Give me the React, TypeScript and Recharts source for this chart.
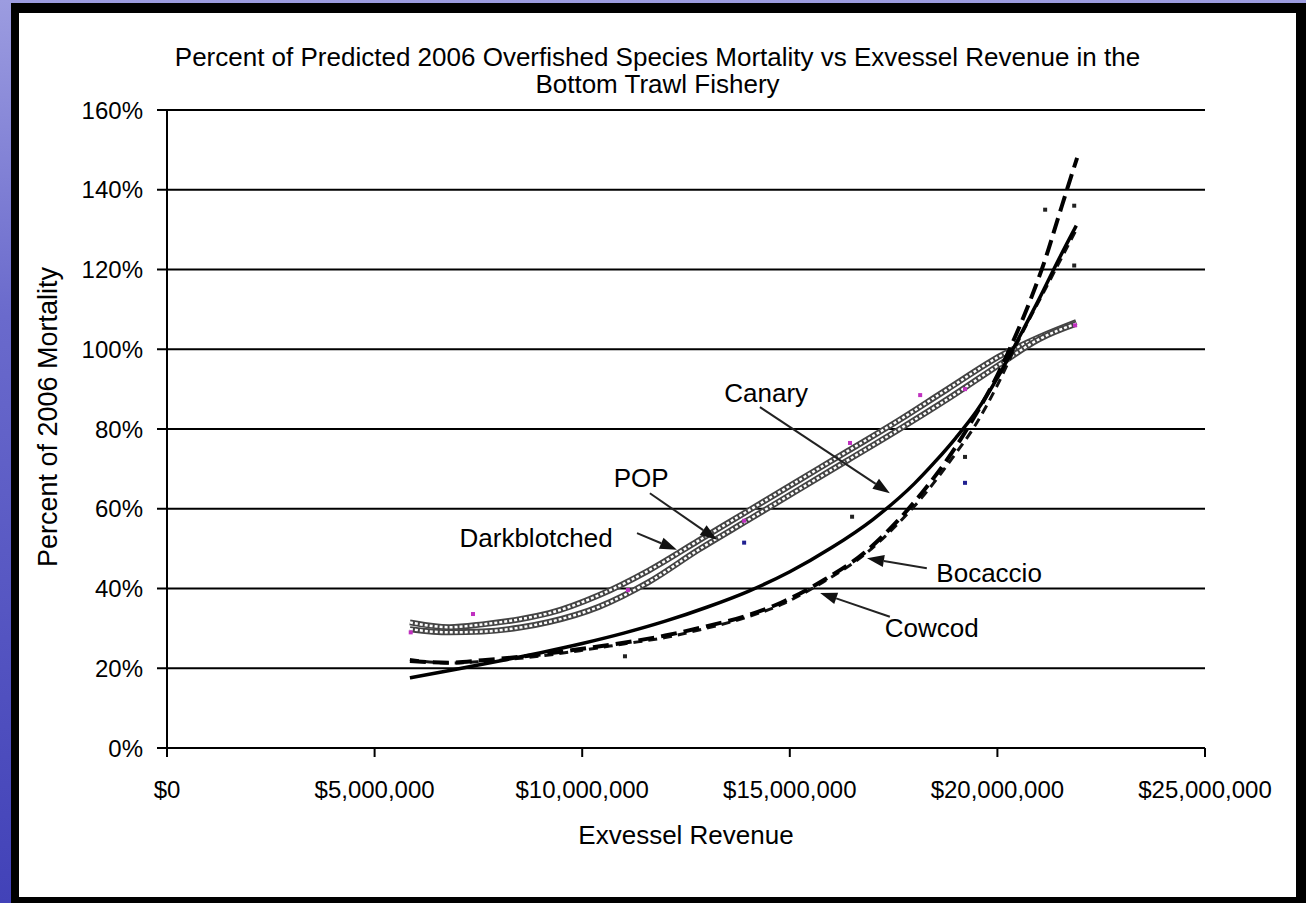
import React from "react";
import {
  ComposedChart,
  Line,
  Scatter,
  XAxis,
  YAxis,
  CartesianGrid,
  ReferenceLine,
  ReferenceDot,
} from "recharts";

// revenue in $ millions, mortality in percent
const revenueTicks = [0, 5000000, 10000000, 15000000, 20000000, 25000000];
const percentTicks = [0, 20, 40, 60, 80, 100, 120, 140, 160];

const darkRev = [5.85, 6.8, 7.6, 8.5, 9.2, 10.4, 11.6, 12.8, 14.0, 15.2, 16.4, 17.6, 18.8, 20.1, 21.0, 21.9];
const darkPct = [31.5, 30.3, 31.0, 32.3, 33.8, 38.3, 44.5, 52.0, 59.5, 67.0, 74.5, 82.0, 90.0, 98.5, 103.0, 106.8];

const popRev = [5.85, 6.8, 7.6, 8.5, 9.2, 10.4, 11.6, 12.8, 14.0, 15.2, 16.4, 17.6, 18.8, 20.1, 21.0, 21.9];
const popPct = [29.8, 29.0, 29.2, 30.2, 31.6, 35.4, 41.6, 49.7, 57.2, 64.7, 72.2, 79.7, 87.5, 96.5, 102.5, 106.4];

const canaryRev = [5.85, 7.0, 8.0, 9.0, 10.0, 11.0, 12.0, 13.0, 14.0, 15.0, 16.0, 17.0, 18.0, 18.5, 19.0, 19.5, 20.0, 20.5, 21.0, 21.5, 21.9];
const canaryPct = [17.6, 19.8, 21.8, 23.9, 26.2, 28.8, 31.8, 35.3, 39.3, 44.2, 50.2, 57.3, 66.3, 71.8, 77.8, 84.5, 92.8, 102.5, 112.5, 123.0, 131.0];

const bocRev = [5.85, 6.8, 7.6, 9.1, 10.0, 11.0, 12.0, 12.9, 13.9, 14.8, 15.8, 16.8, 17.6, 18.3, 18.9, 19.5, 20.0, 20.4, 20.8, 21.15, 21.45, 21.75, 21.92];
const bocPct = [21.8, 21.4, 22.0, 23.6, 24.9, 26.4, 28.2, 30.3, 33.0, 36.5, 42.0, 49.0, 57.0, 65.5, 74.0, 84.0, 93.5, 102.5, 112.5, 122.5, 132.5, 142.5, 148.0];

const cowRev = [5.85, 6.8, 7.6, 9.1, 10.0, 11.0, 12.0, 12.9, 13.9, 14.8, 15.8, 16.8, 17.6, 18.3, 18.9, 19.5, 20.0, 20.5, 21.3, 21.9];
const cowPct = [22.2, 21.3, 21.7, 23.2, 24.5, 26.1, 27.7, 29.8, 32.6, 36.0, 41.6, 48.5, 56.2, 64.3, 72.5, 81.5, 91.0, 102.0, 118.0, 130.0];

// observed points (the small markers)
const darkObsRev = [5.87, 7.37, 11.1, 13.9, 16.45, 18.14, 19.22, 21.87];
const darkObsPct = [29.0, 33.6, 39.6, 57.0, 76.5, 88.5, 90.0, 106.0];
const popObsRev = [13.9, 19.22];
const popObsPct = [51.5, 66.5];
const otherObsRev = [11.03, 16.5, 19.22, 21.15, 21.85, 21.85];
const otherObsPct = [23.0, 58.0, 73.0, 135.0, 136.0, 121.0];

const toPoints = (rev: number[], pct: number[]) => rev.map((r, i) => ({ x: r * 1000000, y: pct[i] }));

const darkData = toPoints(darkRev, darkPct);
const popData = toPoints(popRev, popPct);
const canaryData = toPoints(canaryRev, canaryPct);
const bocData = toPoints(bocRev, bocPct);
const cowData = toPoints(cowRev, cowPct);

const notes = [
  { text: "Canary", at: [14.43, 89.0], from: [14.28, 85.5], to: [17.41, 63.9] },
  { text: "POP", at: [11.42, 67.7], from: [11.63, 63.9], to: [13.25, 52.2] },
  { text: "Darkblotched", at: [8.89, 52.7], from: [11.32, 53.9], to: [12.28, 49.7] },
  { text: "Bocaccio", at: [19.8, 43.9], from: [18.3, 45.1], to: [16.86, 47.6] },
  { text: "Cowcod", at: [18.42, 30.1], from: [17.41, 32.9], to: [15.73, 38.9] },
];

const FONT = "'Liberation Sans', Arial, sans-serif";

// eslint-disable-next-line @typescript-eslint/no-explicit-any
function Arrow(p: any) {
  const { x1, y1, x2, y2 } = p;
  const a = Math.atan2(y2 - y1, x2 - x1);
  const len = 17;
  const half = 6;
  const bx = x2 - len * Math.cos(a);
  const by = y2 - len * Math.sin(a);
  const pts = `${x2},${y2} ${bx + half * Math.sin(a)},${by - half * Math.cos(a)} ${bx - half * Math.sin(a)},${by + half * Math.cos(a)}`;
  return (
    <g>
      <line x1={x1} y1={y1} x2={bx} y2={by} stroke="#222" strokeWidth={2} />
      <polygon points={pts} fill="#111" />
    </g>
  );
}

// eslint-disable-next-line @typescript-eslint/no-explicit-any
const marker = (color: string) => (p: any) => (
  <rect x={p.cx - 2} y={p.cy - 2} width={4} height={4} fill={color} />
);

// eslint-disable-next-line @typescript-eslint/no-explicit-any
function YTitle(props: any) {
  const vb = props.viewBox ?? {};
  const x = (vb.x ?? 0) + 29;
  const y = (vb.y ?? 0) + (vb.height ?? 0) / 2 - 12;
  return (
    <text
      x={x}
      y={y}
      transform={`rotate(-90, ${x}, ${y})`}
      textAnchor="middle"
      dominantBaseline="central"
      fill="#000"
      fontSize={27}
      fontFamily={FONT}
    >
      Percent of 2006 Mortality
    </text>
  );
}

const money = (v: number) => "$" + v.toLocaleString("en-US");

export default function App() {
  const tickStyle = { fill: "#000", fontSize: 24, fontFamily: FONT };
  return (
    <div
      style={{
        position: "absolute",
        left: 0,
        top: 0,
        width: 1306,
        height: 903,
        background: "linear-gradient(to bottom, #9c9ce0 0%, #6a6acc 35%, #4242b8 100%)",
        overflow: "hidden",
      }}
    >
      <div
        style={{
          position: "absolute",
          left: 11,
          top: 3,
          width: 1277,
          height: 884,
          background: "#fff",
          borderLeft: "8px solid #000",
          borderTop: "10px solid #000",
          borderRight: "10px solid #000",
          borderBottom: "6px solid #000",
        }}
      >
        <div
          style={{
            position: "absolute",
            left: 0,
            top: 31,
            width: 1277,
            textAlign: "center",
            fontFamily: FONT,
            fontSize: 26,
            lineHeight: "27px",
            color: "#000",
            whiteSpace: "nowrap",
          }}
        >
          Percent of Predicted 2006 Overfished Species Mortality vs Exvessel Revenue in the
          <br />
          Bottom Trawl Fishery
        </div>
        <ComposedChart
          width={1277}
          height={884}
          margin={{ top: 97, right: 91, bottom: 49, left: 0 }}
          style={{ position: "absolute", left: 0, top: 0 }}
        >
          <CartesianGrid vertical={false} horizontal stroke="#000" strokeWidth={2} />
          <XAxis
            type="number"
            dataKey="x"
            domain={[0, 25000000]}
            ticks={revenueTicks}
            tickFormatter={money}
            height={100}
            tickSize={9}
            tickMargin={24}
            tick={tickStyle}
            axisLine={{ stroke: "#000", strokeWidth: 2 }}
            tickLine={{ stroke: "#000", strokeWidth: 2 }}
            label={{ value: "Exvessel Revenue", position: "insideBottom", offset: 4, fill: "#000", fontSize: 26, fontFamily: FONT }}
          />
          <YAxis
            type="number"
            dataKey="y"
            domain={[0, 160]}
            ticks={percentTicks}
            tickFormatter={(v: number) => `${v}%`}
            width={148}
            tickSize={10}
            tickMargin={14}
            tick={tickStyle}
            axisLine={{ stroke: "#000", strokeWidth: 2 }}
            tickLine={{ stroke: "#000", strokeWidth: 2 }}
            label={<YTitle />}
          />

          {/* hollow double lines */}
          <Line data={darkData} dataKey="y" type="monotone" stroke="#444" strokeWidth={6} dot={false} activeDot={false} isAnimationActive={false} />
          <Line data={darkData} dataKey="y" type="monotone" stroke="#fff" strokeWidth={2.5} strokeDasharray="3 2" dot={false} activeDot={false} isAnimationActive={false} />
          <Line data={popData} dataKey="y" type="monotone" stroke="#444" strokeWidth={6} dot={false} activeDot={false} isAnimationActive={false} />
          <Line data={popData} dataKey="y" type="monotone" stroke="#fff" strokeWidth={2.5} strokeDasharray="3 2" dot={false} activeDot={false} isAnimationActive={false} />

          <Line data={cowData} dataKey="y" type="monotone" stroke="#111" strokeWidth={3} strokeDasharray="9 6" dot={false} activeDot={false} isAnimationActive={false} />
          <Line data={bocData} dataKey="y" type="monotone" stroke="#000" strokeWidth={4} strokeDasharray="16 7" dot={false} activeDot={false} isAnimationActive={false} />
          <Line data={canaryData} dataKey="y" type="monotone" stroke="#000" strokeWidth={3.5} dot={false} activeDot={false} isAnimationActive={false} />

          <Scatter data={toPoints(darkObsRev, darkObsPct)} dataKey="y" shape={marker("#c030c0")} isAnimationActive={false} />
          <Scatter data={toPoints(popObsRev, popObsPct)} dataKey="y" shape={marker("#202090")} isAnimationActive={false} />
          <Scatter data={toPoints(otherObsRev, otherObsPct)} dataKey="y" shape={marker("#222")} isAnimationActive={false} />

          {notes.map((n) => (
            <ReferenceLine
              key={`arrow-${n.text}`}
              segment={[
                { x: n.from[0] * 1000000, y: n.from[1] },
                { x: n.to[0] * 1000000, y: n.to[1] },
              ]}
              shape={Arrow}
            />
          ))}
          {notes.map((n) => (
            <ReferenceDot
              key={`note-${n.text}`}
              x={n.at[0] * 1000000}
              y={n.at[1]}
              r={1}
              fill="none"
              stroke="none"
              label={{ value: n.text, position: "center", fill: "#000", fontSize: 26, fontFamily: FONT }}
            />
          ))}
        </ComposedChart>
      </div>
    </div>
  );
}
